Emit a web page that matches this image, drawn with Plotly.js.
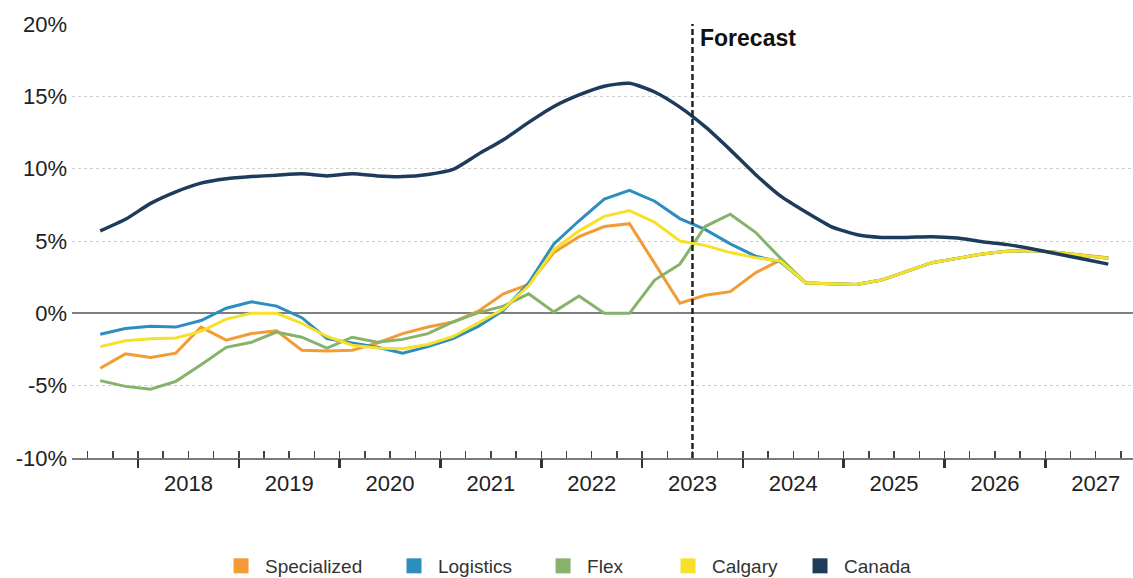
<!DOCTYPE html>
<html>
<head>
<meta charset="utf-8">
<script src="https://cdn.plot.ly/plotly-3.0.1.min.js"></script>
<style>html,body{margin:0;padding:0;background:#fff;}#chart{width:1133px;height:578px;}</style>
</head>
<body>
<div id="chart"></div>
<script>
// Quarterly categories
const quarters = ["2017Q3","2017Q4",
  "2018Q1","2018Q2","2018Q3","2018Q4",
  "2019Q1","2019Q2","2019Q3","2019Q4",
  "2020Q1","2020Q2","2020Q3","2020Q4",
  "2021Q1","2021Q2","2021Q3","2021Q4",
  "2022Q1","2022Q2","2022Q3","2022Q4",
  "2023Q1","2023Q2","2023Q3","2023Q4",
  "2024Q1","2024Q2","2024Q3","2024Q4",
  "2025Q1","2025Q2","2025Q3","2025Q4",
  "2026Q1","2026Q2","2026Q3","2026Q4",
  "2027Q1","2027Q2","2027Q3"];

const specialized = [-3.8,-2.8,-3.05,-2.75,-0.95,-1.85,-1.4,-1.2,-2.55,-2.6,-2.55,-2.05,-1.4,-0.95,-0.6,0.15,1.35,2.0,4.2,5.3,6.0,6.2,3.45,0.7,1.25,1.5,2.8,3.7,2.1,2.05,2.0,2.3,2.9,3.5,3.8,4.1,4.3,4.35,4.2,4.0,3.85];
const logistics   = [-1.45,-1.05,-0.9,-0.95,-0.5,0.35,0.8,0.5,-0.3,-1.75,-2.05,-2.35,-2.75,-2.3,-1.75,-0.9,0.2,2.1,4.8,6.4,7.9,8.5,7.75,6.55,5.8,4.8,3.95,3.55,2.1,2.05,2.0,2.3,2.9,3.5,3.8,4.1,4.3,4.35,4.2,4.0,3.8];
const flex        = [-4.65,-5.05,-5.25,-4.7,-3.55,-2.35,-2.0,-1.3,-1.65,-2.4,-1.65,-2.0,-1.8,-1.4,-0.6,0.05,0.5,1.35,0.1,1.2,0.0,0.0,2.3,3.4,6.0,6.85,5.6,3.8,2.1,2.05,2.0,2.3,2.9,3.5,3.8,4.1,4.3,4.35,4.2,4.0,3.8];
const calgary     = [-2.3,-1.9,-1.75,-1.7,-1.25,-0.4,0.0,0.0,-0.7,-1.6,-2.2,-2.4,-2.45,-2.15,-1.6,-0.65,0.3,1.9,4.4,5.7,6.7,7.1,6.3,5.0,4.7,4.2,3.85,3.6,2.1,2.05,2.0,2.3,2.9,3.5,3.8,4.1,4.3,4.35,4.2,4.0,3.8];
const canada      = [5.7,6.5,7.6,8.4,9.0,9.3,9.45,9.55,9.65,9.5,9.65,9.5,9.45,9.6,9.95,11.0,12.0,13.2,14.3,15.1,15.7,15.9,15.3,14.25,12.9,11.3,9.6,8.1,7.0,6.0,5.45,5.25,5.25,5.3,5.2,4.95,4.75,4.45,4.1,3.75,3.4];

const seriesNames = ["Specialized","Logistics","Flex","Calgary","Canada"];
const years = [2018,2019,2020,2021,2022,2023,2024,2025,2026,2027];
const yTickVals = [-10,-5,0,5,10,15,20];
const yTickText = ["-10%","-5%","0%","5%","10%","15%","20%"];
const forecastStart = "2023Q3";

// quarter label -> position at centre of quarter on a year scale
function qPos(q){ const y = parseInt(q.slice(0,4),10); const n = parseInt(q.slice(5),10); return y + (n-0.5)/4; }
function qStart(q){ const y = parseInt(q.slice(0,4),10); const n = parseInt(q.slice(5),10); return y + (n-1)/4; }
const xs = quarters.map(qPos);

const colors = {
  "Specialized":"#f39b34",
  "Logistics":"#2e8dbf",
  "Flex":"#86b26a",
  "Calgary":"#f7e02a",
  "Canada":"#1d3c5c"
};
const values = {"Specialized":specialized,"Logistics":logistics,"Flex":flex,"Calgary":calgary,"Canada":canada};

const xRange = [2017.345, 2027.87];
const FONT = "Liberation Sans, Arial, sans-serif";

// legend positions (paper x) for each entry
const legendX = [0.1367, 0.2997, 0.4402, 0.5580, 0.6824];

const traces = [];
seriesNames.forEach(function(n){
  traces.push({
    x: xs, y: values[n], type:"scatter", mode:"lines", name:n,
    line:{color:colors[n], width: n==="Canada"?3.5:3, shape: n==="Canada"?"spline":"linear", smoothing:0.6},
    showlegend:false, hoverinfo:"x+y"
  });
});
seriesNames.forEach(function(n, i){
  traces.push({
    x:[null], y:[null], type:"scatter", mode:"markers", name:n,
    marker:{symbol:"square", size:15, color:colors[n]},
    showlegend:true, legend: i===0 ? "legend" : "legend"+(i+1)
  });
});
// helper traces to realise the tick-only overlay axes
traces.push({x:[2020], y:[null], xaxis:"x2", yaxis:"y", type:"scatter", mode:"markers", showlegend:false, hoverinfo:"skip"});
traces.push({x:[2020], y:[null], xaxis:"x3", yaxis:"y", type:"scatter", mode:"markers", showlegend:false, hoverinfo:"skip"});

const quarterBounds = quarters.map(qStart).concat([qStart("2027Q4")]);

const layout = {
  width:1133, height:578,
  margin:{l:72, r:0, t:24, b:120, autoexpand:false},
  paper_bgcolor:"#fff", plot_bgcolor:"#fff",
  font:{family:FONT, color:"#222", size:22},
  showlegend:true,
  xaxis:{
    range:xRange, tickmode:"array", tickvals:years.map(function(y){return y+0.5;}),
    ticktext:years.map(String), ticks:"", showgrid:false, zeroline:false,
    showline:true, linecolor:"#7a7a7a", linewidth:2,
    tickfont:{family:FONT, size:22, color:"#222"}, ticklabelstandoff:5
  },
  xaxis2:{
    overlaying:"x", anchor:"y", range:xRange, tickmode:"array", tickvals:quarterBounds,
    ticks:"inside", ticklen:7, tickwidth:1.5, tickcolor:"#444", showticklabels:false,
    showgrid:false, zeroline:false, showline:false
  },
  xaxis3:{
    overlaying:"x", anchor:"y", range:xRange, tickmode:"array", tickvals:years,
    ticks:"outside", ticklen:9, tickwidth:2.5, tickcolor:"#333", showticklabels:false,
    showgrid:false, zeroline:false, showline:false
  },
  yaxis:{
    range:[-10,20], tickmode:"array", tickvals:yTickVals, ticktext:yTickText,
    showgrid:true, gridcolor:"#cfcfcf", griddash:"dot", gridwidth:1,
    zeroline:true, zerolinecolor:"#808080", zerolinewidth:2,
    showline:false, ticks:"", tickfont:{family:FONT, size:22, color:"#222"},
    ticklabelstandoff:4
  },
  shapes:[{
    type:"line", xref:"x", yref:"paper", x0:qStart(forecastStart), x1:qStart(forecastStart), y0:0, y1:1,
    line:{color:"#222", width:2.5, dash:"6px,3px"}
  }],
  annotations:[{
    xref:"x", yref:"paper", x:qStart(forecastStart), y:1, xanchor:"left", yanchor:"top",
    xshift:6, yshift:1, text:"<b>Forecast</b>", showarrow:false,
    font:{family:FONT, size:23, color:"#111"}
  }]
};
seriesNames.forEach(function(n, i){
  const key = i===0 ? "legend" : "legend"+(i+1);
  layout[key] = {orientation:"h", x:legendX[i], xanchor:"left", y:-0.205, yanchor:"top",
    font:{family:FONT, size:19, color:"#333"}, itemwidth:38, bgcolor:"rgba(0,0,0,0)"};
});

Plotly.newPlot("chart", traces, layout, {displayModeBar:false, staticPlot:true});
</script>
</body>
</html>
